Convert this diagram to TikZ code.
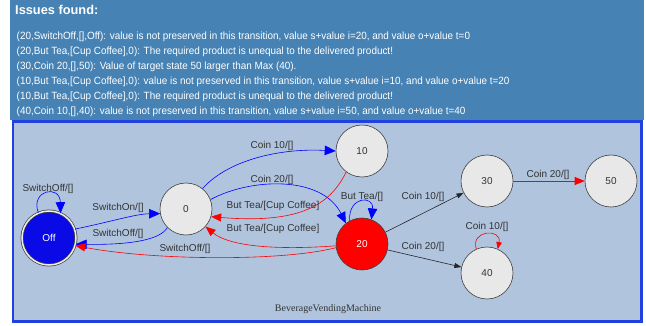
\documentclass[tikz,border=0pt]{standalone}
\usepackage{fontspec}
\setmainfont{Liberation Sans}
\newfontfamily\issuefont[FakeStretch=0.945]{Liberation Sans}
\newfontfamily\captionserif{Liberation Serif}
\usetikzlibrary{arrows.meta}
\definecolor{headerblue}{HTML}{4682B4}
\definecolor{panelfill}{HTML}{B0C4DE}
\definecolor{panelborder}{HTML}{2040E0}
\definecolor{statefill}{HTML}{E8E8E8}
\definecolor{labelgray}{HTML}{333333}
\definecolor{offblue}{HTML}{0A0AE6}

\begin{document}
\begin{tikzpicture}[x=1pt,y=-1pt,
  state/.style={circle, draw=black!75, line width=0.6pt, fill=statefill,
    minimum size=52pt, inner sep=0pt, font=\fontsize{10}{12}\selectfont, text=labelgray},
  elabel/.style={font=\fontsize{10}{12}\selectfont, text=labelgray, inner sep=0pt},
  issue/.style={font=\issuefont\fontsize{10.5}{12}\selectfont, text=white, anchor=west, inner sep=0pt},
  bluearc/.style={draw=blue, line width=0.6pt, -{Triangle[length=11pt,width=9.5pt]}},
  redarc/.style={draw=red, line width=0.6pt, -{Triangle[length=10pt,width=8pt]}},
  smallred/.style={draw=red, line width=0.6pt, -{Triangle[length=7pt,width=5.5pt]}},
  blackarc/.style={draw=black!85, line width=0.6pt, -{Triangle[length=7pt,width=5pt]}},
]
\useasboundingbox (0,0) rectangle (646,326);
\fill[white] (0,0) rectangle (646,326);

% issue report header
\fill[headerblue] (10,0) rectangle (644,120);
\node[anchor=west, inner sep=0pt, text=white, font=\bfseries\fontsize{12.8}{14}\selectfont] (title) at (15,10) {Issues found:};
\node[issue] (i1) at (16.5,36.8) {(20,SwitchOff,[],Off): value is not preserved in this transition, value s+value i=20, and value o+value t=0};
\node[issue] (i2) at (16.5,51.7) {(20,But Tea,[Cup Coffee],0): The required product is unequal to the delivered product!};
\node[issue] (i3) at (16.5,66.6) {(30,Coin 20,[],50): Value of target state 50 larger than Max (40).};
\node[issue] (i4) at (16.5,81.5) {(10,But Tea,[Cup Coffee],0): value is not preserved in this transition, value s+value i=10, and value o+value t=20};
\node[issue] (i5) at (16.5,96.4) {(10,But Tea,[Cup Coffee],0): The required product is unequal to the delivered product!};
\node[issue] (i6) at (16.5,111.3) {(40,Coin 10,[],40): value is not preserved in this transition, value s+value i=50, and value o+value t=40};

% state machine panel
\draw[panelborder, fill=panelfill, line width=2.5pt] (13,121.5) rectangle (641.5,321.5);
\node[font=\captionserif\fontsize{10}{12}\selectfont, text=black!80] (title2) at (328,309) {BeverageVendingMachine};

% states
\node[circle, fill=offblue, draw=black!75, line width=0.7pt, double=white!85!gray,
  double distance=1.5pt, minimum size=54pt, inner sep=0pt, text=white,
  font=\fontsize{10}{12}\selectfont] (off) at (49,238) {Off};
\node[state] (s0) at (186,209) {0};
\node[state] (s10) at (362,151) {10};
\node[state, fill=red, text=white] (s20) at (362,244) {20};
\node[state] (s30) at (487,181) {30};
\node[state] (s50) at (611,181) {50};
\node[state] (s40) at (487,273) {40};

% transitions
\draw[bluearc] (off.113) .. controls (30,190) and (60,184) .. (off.65);
\node[elabel] (l1) at (48,189) {SwitchOff/[]};

\draw[bluearc] (off.19) .. controls (110,222) and (135,214) .. (s0.190);
\node[elabel] (l2) at (118,208) {SwitchOn/[]};

\draw[bluearc] (s0.225) .. controls (160,240) and (130,245) .. (off.-13);
\node[elabel] (l3) at (118,234) {SwitchOff/[]};

\draw[redarc] (s20.188) .. controls (280,262) and (150,260) .. (off.-16);
\node[elabel] (l4) at (185,249) {SwitchOff/[]};

\draw[bluearc] (s0.51) .. controls (228,160) and (280,148) .. (s10.180);
\node[elabel] (l5) at (272,146) {Coin 10/[]};

\draw[bluearc] (s0.21) .. controls (250,178) and (322,175) .. (s20.128);
\node[elabel] (l6) at (272,180) {Coin 20/[]};

\draw[redarc] (s10.233) .. controls (330,205) and (300,224) .. (s0.-17);
\node[elabel] (l7) at (273,206) {But Tea/[Cup Coffee]};

\draw[redarc] (s20.184) .. controls (280,250) and (230,247) .. (s0.-42);
\node[elabel] (l8) at (273,229) {But Tea/[Cup Coffee]};

\draw[bluearc] (s20.118) .. controls (348,196) and (374,195) .. (s20.69);
\node[elabel] (l9) at (362,197) {But Tea/[]};

\draw[blackarc] (s20) -- (s30);
\node[elabel] (l10) at (423,197) {Coin 10/[]};

\draw[blackarc] (s20) -- (s40);
\node[elabel] (l11) at (423,247) {Coin 20/[]};

\draw[redarc] (s30) -- (s50);
\node[elabel] (l12) at (548,175) {Coin 20/[]};

\draw[smallred] (s40.114) .. controls (470,230) and (502,228) .. (s40.66);
\node[elabel] (l13) at (487,227) {Coin 10/[]};
\end{tikzpicture}
\end{document}
